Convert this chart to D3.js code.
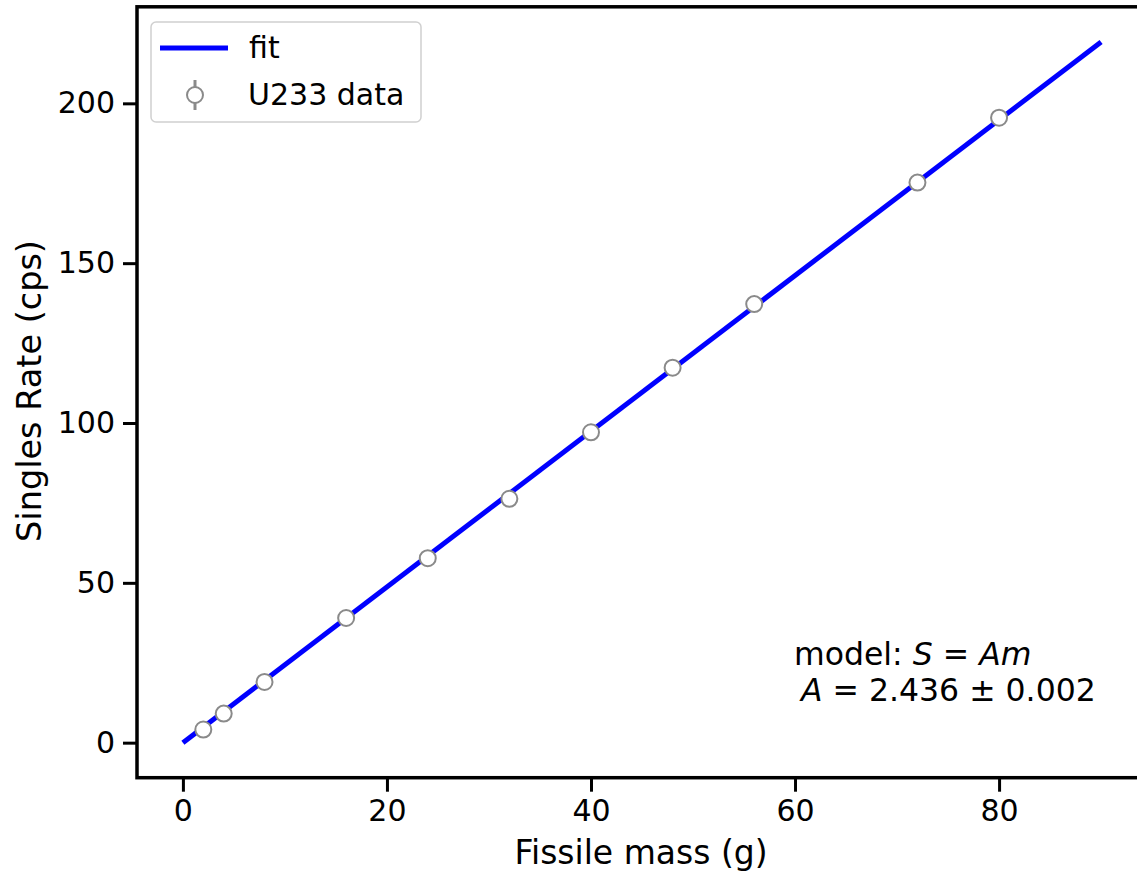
<!DOCTYPE html>
<html>
<head>
<meta charset="utf-8">
<script src="https://cdn.jsdelivr.net/npm/d3@7"></script>
<style>
  body { margin: 0; background: #fff; }
  svg { display: block; font-family: "DejaVu Sans", sans-serif; }
</style>
</head>
<body>
<svg width="1137" height="872"></svg>
<script>
// fissile mass (g) and measured singles rate (cps)
const mass = [2, 4, 8, 16, 24, 32, 40, 48, 56, 72, 80];
const rate = [4.1, 9.1, 19.0, 39.0, 57.7, 76.3, 97.1, 117.3, 137.2, 175.2, 195.5];

// fitted line endpoints, S = A m
const fitMass = [0, 90];
const fitRate = [0, 219.2];

const xTicks = [0, 20, 40, 60, 80];
const yTicks = [0, 50, 100, 150, 200];

const svg = d3.select("svg");

const x = d3.scaleLinear().domain([-4.5, 94.5]).range([137, 1147]);
const y = d3.scaleLinear().domain([-10.96, 230.2]).range([777.7, 6.8]);

// fit line
svg.append("path")
    .datum(fitMass.map((m, i) => [m, fitRate[i]]))
    .attr("fill", "none")
    .attr("stroke", "#0000ff")
    .attr("stroke-width", 5)
    .attr("d", d3.line().x(d => x(d[0])).y(d => y(d[1])));

// data points
svg.selectAll(".pt")
    .data(mass)
    .enter().append("circle")
    .attr("class", "pt")
    .attr("cx", d => x(d))
    .attr("cy", (d, i) => y(rate[i]))
    .attr("r", 8)
    .attr("fill", "#fff")
    .attr("stroke", "#8a8a8a")
    .attr("stroke-width", 2);

// axes
const xAxis = svg.append("g")
    .attr("transform", `translate(0, ${y.range()[0]})`)
    .call(d3.axisBottom(x).tickValues(xTicks).tickSize(14).tickPadding(8).tickSizeOuter(0));
const yAxis = svg.append("g")
    .attr("transform", `translate(${x.range()[0]}, 0)`)
    .call(d3.axisLeft(y).tickValues(yTicks).tickSize(14).tickPadding(8).tickSizeOuter(0));

[xAxis, yAxis].forEach(a => {
    a.select(".domain").remove();
    a.selectAll(".tick line").attr("stroke", "#000").attr("stroke-width", 3);
    a.selectAll(".tick text").attr("fill", "#000")
        .style("font-family", "DejaVu Sans").style("font-size", "30px");
});

// spines
svg.append("rect")
    .attr("x", x.range()[0])
    .attr("y", y.range()[1])
    .attr("width", x.range()[1] - x.range()[0])
    .attr("height", y.range()[0] - y.range()[1])
    .attr("fill", "none")
    .attr("stroke", "#000")
    .attr("stroke-width", 3.5);

// axis labels
svg.append("text")
    .attr("x", 641).attr("y", 864)
    .attr("text-anchor", "middle")
    .style("font-size", "33px")
    .text("Fissile mass (g)");

svg.append("text")
    .attr("transform", "translate(41, 391) rotate(-90)")
    .attr("text-anchor", "middle")
    .style("font-size", "33.5px")
    .text("Singles Rate (cps)");

// legend
const lg = svg.append("g");
lg.append("rect")
    .attr("x", 151).attr("y", 22)
    .attr("width", 270).attr("height", 100)
    .attr("rx", 5)
    .attr("fill", "#fff").attr("fill-opacity", 0.8)
    .attr("stroke", "#d0d0d0").attr("stroke-width", 1.5);
lg.append("line")
    .attr("x1", 160).attr("x2", 228).attr("y1", 48).attr("y2", 48)
    .attr("stroke", "#0000ff").attr("stroke-width", 5);
lg.append("line")
    .attr("x1", 195).attr("x2", 195).attr("y1", 80).attr("y2", 110)
    .attr("stroke", "#8a8a8a").attr("stroke-width", 3);
lg.append("circle")
    .attr("cx", 195).attr("cy", 95).attr("r", 8)
    .attr("fill", "#fff").attr("stroke", "#8a8a8a").attr("stroke-width", 2);
lg.append("text").attr("x", 249).attr("y", 58).style("font-size", "30px").text("fit");
lg.append("text").attr("x", 248).attr("y", 105).style("font-size", "30px").text("U233 data");

// model annotation
const ann = svg.append("text").style("font-size", "31.5px");
const l1 = ann.append("tspan").attr("x", 794).attr("y", 665);
l1.append("tspan").text("model: ");
l1.append("tspan").style("font-style", "italic").text("S");
l1.append("tspan").text(" = ");
l1.append("tspan").style("font-style", "italic").text("Am");
const l2 = ann.append("tspan").attr("x", 801).attr("y", 701);
l2.append("tspan").style("font-style", "italic").text("A");
l2.append("tspan").text(" = 2.436 \u00b1 0.002");
</script>
</body>
</html>
